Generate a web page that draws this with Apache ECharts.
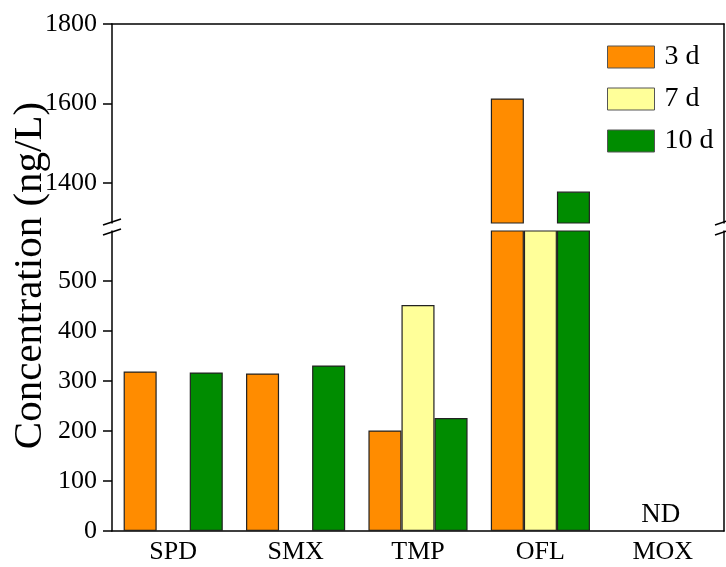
<!DOCTYPE html>
<html>
<head>
<meta charset="utf-8">
<script src="https://cdn.jsdelivr.net/npm/echarts@6/dist/echarts.min.js"></script>
<style>
  html, body { margin: 0; padding: 0; background: #fff; }
  #chart { width: 726px; height: 567px; }
</style>
</head>
<body>
<div id="chart"></div>
<script>
// Antibiotic concentrations at different sampling days
const categories = ['SPD', 'SMX', 'TMP', 'OFL', 'MOX'];
const seriesNames = ['3 d', '7 d', '10 d'];
const day3 = [319, 315, 201, 1613, null];
const day7 = [null, null, 452, 900, null];
const day10 = [317, 331, 226, 1379, null];
const seriesColors = ['#FF8C00', '#FFFF99', '#008C00'];

// broken y axis: lower and upper value ranges
const lowerRange = [0, 600];
const upperRange = [1300, 1800];
const lowerTicks = [0, 100, 200, 300, 400, 500];
const upperTicks = [1400, 1600, 1800];
const notDetected = 'ND';

const FONT = '"Liberation Serif", "Times New Roman", serif';
const L = 112, R = 2, TOP = 24, UPPER_H = 199, LOWER_TOP = 231, LOWER_H = 300;

const chart = echarts.init(document.getElementById('chart'));

const values = [day3, day7, day10];
const series = [];
values.forEach((arr, i) => {
  const style = { color: seriesColors[i], borderColor: '#222', borderWidth: 1.2 };
  // lower panel
  series.push({
    name: seriesNames[i], type: 'bar', xAxisIndex: 1, yAxisIndex: 1,
    data: arr.map(v => v == null ? '-' : v),
    barWidth: '27%', barGap: '0%', clip: true,
    itemStyle: style, emphasis: { disabled: true }
  });
  // upper panel: only values reaching above the break
  series.push({
    name: seriesNames[i], type: 'bar', xAxisIndex: 0, yAxisIndex: 0,
    data: arr.map(v => (v != null && v > upperRange[0]) ? v : '-'),
    barWidth: '27%', barGap: '0%', clip: true,
    itemStyle: style, emphasis: { disabled: true }
  });
});

const axisLine = { show: true, lineStyle: { color: '#000', width: 1.5 } };
const tickFont = { fontFamily: FONT, fontSize: 26, color: '#000', formatter: v => String(v) };
const catFont = { fontFamily: FONT, fontSize: 26, color: '#000' };

chart.setOption({
  animation: false,
  textStyle: { fontFamily: FONT },
  grid: [
    { left: L, right: R, top: TOP, height: UPPER_H },
    { left: L, right: R, top: LOWER_TOP, height: LOWER_H }
  ],
  legend: {
    orient: 'vertical', left: 602, top: 38, icon: 'rect',
    itemWidth: 47, itemHeight: 22, itemGap: 14,
    itemStyle: { borderColor: '#555', borderWidth: 1 },
    textStyle: { fontFamily: FONT, fontSize: 28, color: '#000', padding: [0, 0, 0, 5] },
    data: seriesNames
  },
  xAxis: [
    { type: 'category', gridIndex: 0, data: categories, position: 'top',
      axisLine: axisLine, axisTick: { show: false }, axisLabel: { show: false } },
    { type: 'category', gridIndex: 1, data: categories, position: 'bottom',
      axisLine: axisLine, axisTick: { show: false },
      axisLabel: Object.assign({ margin: 8 }, catFont) }
  ],
  yAxis: [
    { type: 'value', gridIndex: 0, min: upperRange[0], max: upperRange[1],
      axisLine: axisLine, splitLine: { show: false },
      axisTick: { show: true, length: 9, customValues: upperTicks, lineStyle: { color: '#000', width: 1.5 } },
      axisLabel: Object.assign({ margin: 15, customValues: upperTicks }, tickFont) },
    { type: 'value', gridIndex: 1, min: lowerRange[0], max: lowerRange[1],
      axisLine: axisLine, splitLine: { show: false },
      axisTick: { show: true, length: 9, customValues: lowerTicks, lineStyle: { color: '#000', width: 1.5 } },
      axisLabel: Object.assign({ margin: 15, customValues: lowerTicks }, tickFont) },
    // right-hand frame lines
    { type: 'value', gridIndex: 0, position: 'right', min: upperRange[0], max: upperRange[1],
      axisLine: axisLine, axisTick: { show: false }, axisLabel: { show: false }, splitLine: { show: false } },
    { type: 'value', gridIndex: 1, position: 'right', min: lowerRange[0], max: lowerRange[1],
      axisLine: axisLine, axisTick: { show: false }, axisLabel: { show: false }, splitLine: { show: false } }
  ],
  series: series
});

// decorations: axis title, break marks, "ND" label for MOX
const upperBottom = TOP + UPPER_H;
const midBreak = (upperBottom + LOWER_TOP) / 2;
const leftX = L, rightX = 726 - R;
function breakMarks(x) {
  return [-5, 5].map(dy => ({
    type: 'line', silent: true,
    shape: { x1: x - 9, y1: midBreak + dy + 3, x2: x + 9, y2: midBreak + dy - 3 },
    style: { stroke: '#000', lineWidth: 1.5 }
  }));
}
const ndPos = chart.convertToPixel({ xAxisIndex: 1, yAxisIndex: 1 }, ['MOX', 0]);

chart.setOption({
  graphic: [
    { type: 'rect', silent: true, shape: { x: leftX - 3, y: upperBottom - 3, width: 6, height: LOWER_TOP - upperBottom + 4 },
      style: { fill: '#fff' } },
    { type: 'rect', silent: true, shape: { x: rightX - 3, y: upperBottom - 3, width: 6, height: LOWER_TOP - upperBottom + 4 },
      style: { fill: '#fff' } },
    ...breakMarks(leftX),
    ...breakMarks(rightX),
    { type: 'text', silent: true, x: 30, y: (TOP + LOWER_TOP + LOWER_H) / 2 - 2, rotation: Math.PI / 2,
      style: { text: 'Concentration (ng/L)', font: '41px ' + FONT, fill: '#000',
               textAlign: 'center', textVerticalAlign: 'middle' } },
    { type: 'text', silent: true, x: ndPos[0] - 2, y: ndPos[1] - 16,
      style: { text: notDetected, font: '27px ' + FONT, fill: '#000',
               textAlign: 'center', textVerticalAlign: 'middle' } }
  ]
});
</script>
</body>
</html>
